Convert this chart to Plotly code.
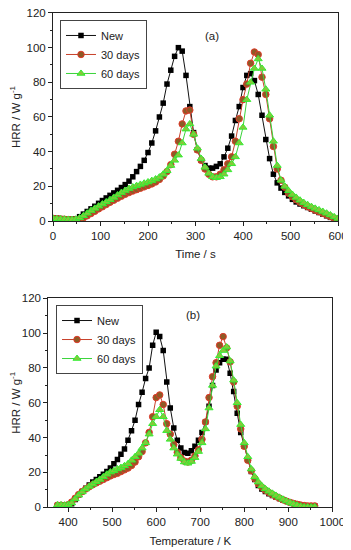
import plotly.graph_objects as go

# ---------- Panel (a): HRR vs time ----------
time_s = list(range(0, 601, 8))

hrr_new_a = [1.8, 1.6, 1.4, 1.2, 1.0, 0.9, 1.2, 2.5, 4.0, 5.5, 7.0, 8.5, 10.2, 11.8, 13.3, 14.8,
             16.2, 17.7, 19.3, 21.0, 23.0, 25.5, 28.5, 31.5, 35.0, 39.5, 45.0, 52.0, 60.0, 68.0,
             79.0, 87.0, 95.0, 100.0, 98.0, 84.0, 66.0, 51.0, 41.0, 35.0, 32.0, 30.5, 30.5, 31.5,
             33.0, 37.0, 42.0, 49.0, 58.0, 66.0, 77.0, 84.0, 85.0, 81.0, 73.0, 61.0, 47.0, 36.0,
             27.0, 22.0, 19.0, 16.5, 14.5, 12.5, 11.0, 9.8, 8.8, 7.8, 6.8, 5.8, 4.9, 4.0, 3.0,
             2.1, 1.2, 0.4]

hrr_30d_a = [1.5, 1.3, 1.1, 1.0, 0.8, 0.7, 0.7, 0.9, 1.8, 3.0, 4.3, 5.6, 7.0, 8.2, 9.5, 10.8,
             12.0, 13.2, 14.3, 15.4, 16.4, 17.3, 18.1, 18.9, 19.7, 20.5, 21.4, 22.5, 24.0, 26.0,
             28.5, 32.5, 38.5, 46.0, 56.0, 63.5, 64.0, 50.0, 41.0, 35.0, 30.0, 27.0, 25.5, 25.5,
             27.0, 29.5, 33.0, 37.0, 46.0, 59.0, 70.0, 79.0, 91.0, 97.5, 96.0, 83.0, 73.0, 59.0,
             43.0, 30.0, 23.5, 19.5, 16.0, 14.0, 12.3, 10.8, 9.5, 8.3, 7.3, 6.3, 5.4, 4.5, 3.6,
             2.6, 1.6, 0.8]

hrr_60d_a = [1.5, 1.3, 1.1, 1.0, 0.9, 0.8, 1.0, 1.8, 3.0, 4.5, 6.0, 7.3, 8.6, 9.8, 11.0, 12.3,
             13.6, 15.0, 16.4, 17.6, 18.7, 19.6, 20.4, 21.1, 21.8, 22.5, 23.3, 24.2, 25.3, 27.0,
             29.0, 32.0, 35.0, 38.0, 45.0, 53.0, 56.0, 50.0, 42.0, 36.0, 31.0, 27.5, 25.5, 25.0,
             25.5, 27.0, 29.5, 33.0, 37.0, 45.0, 54.0, 70.0, 80.0, 88.0, 93.5, 88.0, 76.0, 61.0,
             46.0, 32.0, 23.5, 20.0, 17.5, 15.3, 13.6, 12.0, 10.6, 9.4, 8.3, 7.3, 6.4, 5.5, 4.5,
             3.5, 2.4, 1.5]

# ---------- Panel (b): HRR vs temperature ----------
temp_k = list(range(376, 961, 8))

hrr_new_b = [1.2, 1.2, 0.8, 0.2, 2.0, 4.5, 7.0, 9.0, 11.0, 12.8, 14.5, 16.0, 17.5, 19.0, 20.5,
             22.5, 25.0, 27.5, 30.5, 33.5, 38.5, 44.0, 50.0, 59.0, 66.0, 74.0, 80.0, 93.0, 100.5,
             98.0, 90.0, 72.0, 57.0, 45.5, 38.5, 34.0, 31.5, 31.0, 32.5, 35.0, 38.5, 43.0, 49.0,
             58.0, 70.0, 78.8, 83.0, 85.0, 85.0, 77.0, 66.5, 54.0, 43.0, 35.0, 27.0, 20.5, 16.0,
             12.5, 10.5, 9.0, 7.8, 6.8, 5.9, 5.0, 4.2, 3.5, 2.8, 2.2, 1.7, 1.3, 1.0, 0.8, 0.8, 0.9]

hrr_30d_b = [1.2, 1.2, 1.0, 1.5, 3.0, 5.2, 7.3, 9.0, 10.5, 11.8, 13.0, 14.0, 15.0, 16.0, 17.0,
             18.0, 18.8, 19.5, 20.5, 21.5, 22.5, 24.0, 26.0, 29.0, 32.0, 37.0, 43.0, 52.0, 63.0,
             64.5, 59.0, 48.0, 42.0, 36.0, 31.5, 28.5, 26.5, 26.0, 27.0, 29.5, 33.0, 39.0, 49.0,
             63.0, 75.0, 83.0, 93.0, 98.0, 91.5, 83.5, 72.0, 58.0, 45.0, 35.0, 27.0, 21.0, 16.5,
             13.5, 11.5, 9.8, 8.5, 7.3, 6.2, 5.2, 4.3, 3.5, 2.8, 2.2, 1.7, 1.3, 1.0, 0.8, 0.8, 0.8]

hrr_60d_b = [1.3, 1.3, 1.2, 1.5, 2.5, 4.8, 7.0, 8.8, 10.5, 12.0, 13.3, 14.7, 16.0, 17.5, 19.0,
             20.2, 21.0, 22.0, 22.8, 23.8, 25.0, 27.0, 29.0, 31.0, 34.0, 37.0, 42.0, 48.0, 52.0,
             56.0, 52.0, 44.0, 39.0, 34.0, 30.5, 28.0, 26.0, 25.3, 26.3, 28.5, 32.0, 37.0, 45.0,
             57.0, 70.0, 81.0, 87.0, 90.0, 92.0, 84.0, 73.0, 60.0, 47.5, 37.0, 29.0, 22.0, 17.5,
             14.5, 12.3, 10.6, 9.2, 8.0, 6.8, 5.7, 4.6, 3.6, 2.7, 1.9, 1.2, 0.6, 0.2, 0.1, 0.1, 0.2]

series_names = ["New", "30 days", "60 days"]
x_ticks_a = [0, 100, 200, 300, 400, 500, 600]
x_ticks_b = [400, 500, 600, 700, 800, 900, 1000]
y_ticks = [0, 20, 40, 60, 80, 100, 120]

styles = [
    dict(line=dict(color="#111111", width=1),
         marker=dict(symbol="square", size=5.5, color="#000000", line=dict(width=0))),
    dict(line=dict(color="#c8402a", width=1),
         marker=dict(symbol="circle", size=6.5, color="#8e5a26", line=dict(color="#e03a2a", width=1))),
    dict(line=dict(color="#3ad43a", width=1),
         marker=dict(symbol="triangle-up", size=7, color="#86c83a", line=dict(color="#33ee33", width=1))),
]

fig = go.Figure()
data_a = [hrr_new_a, hrr_30d_a, hrr_60d_a]
data_b = [hrr_new_b, hrr_30d_b, hrr_60d_b]
for name, ys, st in zip(series_names, data_a, styles):
    fig.add_trace(go.Scatter(x=time_s, y=ys, name=name, mode="lines+markers",
                             xaxis="x", yaxis="y", legend="legend", **st))
for name, ys, st in zip(series_names, data_b, styles):
    fig.add_trace(go.Scatter(x=temp_k, y=ys, name=name, mode="lines+markers",
                             xaxis="x2", yaxis="y2", legend="legend2", **st))

font_family = "Liberation Sans, Arial, sans-serif"
axis_common = dict(showline=True, linecolor="#222", linewidth=1, mirror=True,
                   ticks="outside", ticklen=4, tickcolor="#222", showgrid=False,
                   zeroline=False, automargin=False, ticklabeloverflow="allow",
                   tickfont=dict(size=11.5, color="#222", family=font_family))

# page body has an 8px margin, so the figure is 8px smaller than the window
fig.update_layout(
    width=343, height=542,
    margin=dict(l=0, r=0, t=0, b=0),
    paper_bgcolor="white", plot_bgcolor="white",
    font=dict(family=font_family, size=11, color="#222"),
    xaxis=dict(domain=[0.1312, 0.9621], anchor="y", range=[0, 600], tickvals=x_ticks_a,
               minor=dict(ticks="outside", ticklen=2, dtick=50, tickcolor="#222"),
               title=dict(text="Time / s", standoff=9, font=dict(size=11.5)), **axis_common),
    yaxis=dict(domain=[0.6070, 0.9908], anchor="x", range=[0, 120], tickvals=y_ticks,
               minor=dict(ticks="outside", ticklen=2, dtick=10, tickcolor="#222"),
               title=dict(text="HRR / W g<sup>-1</sup>", standoff=5, font=dict(size=11.5)), **axis_common),
    xaxis2=dict(domain=[0.1175, 0.9455], anchor="y2", range=[355, 1000], tickvals=x_ticks_b,
                minor=dict(ticks="outside", ticklen=2, dtick=50, tickcolor="#222"),
                title=dict(text="Temperature / K", standoff=9, font=dict(size=11.5)), **axis_common),
    yaxis2=dict(domain=[0.0788, 0.4644], anchor="x2", range=[0, 120], tickvals=y_ticks,
                minor=dict(ticks="outside", ticklen=2, dtick=10, tickcolor="#222"),
                title=dict(text="HRR / W g<sup>-1</sup>", standoff=5, font=dict(size=11.5)), **axis_common),
    legend=dict(x=0.1516, y=0.9779, xanchor="left", yanchor="top", bgcolor="white",
                bordercolor="#444", borderwidth=1, font=dict(size=11), itemwidth=30,
                tracegroupgap=0),
    legend2=dict(x=0.140, y=0.452, xanchor="left", yanchor="top", bgcolor="white",
                 bordercolor="#444", borderwidth=1, font=dict(size=11), itemwidth=30,
                 tracegroupgap=0),
    annotations=[
        dict(text="(a)", x=0.5948, y=0.963, xref="paper", yref="paper", showarrow=False,
             font=dict(size=11.5)),
        dict(text="(b)", x=0.539, y=0.4336, xref="paper", yref="paper", showarrow=False,
             font=dict(size=11.5)),
    ],
)

fig.write_html("out.html")
